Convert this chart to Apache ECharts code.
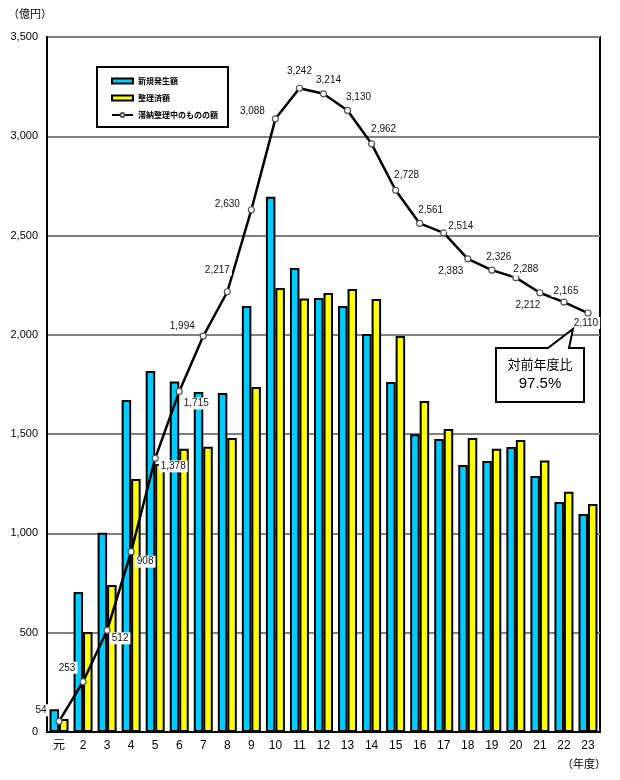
<!DOCTYPE html>
<html>
<head>
<meta charset="utf-8">
<script src="https://cdn.jsdelivr.net/npm/echarts@6/dist/echarts.min.js"></script>
<style>html,body{margin:0;padding:0;background:#fff;}#c{width:620px;height:780px;}</style>
</head>
<body>
<div id="c"></div>
<script>
var categories = ['元','2','3','4','5','6','7','8','9','10','11','12','13','14','15','16','17','18','19','20','21','22','23'];
var newAmount = [115, 705, 1003, 1672, 1818, 1765, 1712, 1707, 2145, 2695, 2337, 2186, 2145, 2004, 1762, 1500, 1475, 1345, 1365, 1435, 1289, 1158, 1098];
var settledAmount = [65, 504, 740, 1274, 1350, 1427, 1436, 1481, 1737, 2236, 2183, 2211, 2231, 2181, 1994, 1667, 1526, 1481, 1427, 1470, 1367, 1210, 1148];
var pendingAmount = [54, 253, 512, 908, 1378, 1715, 1994, 2217, 2630, 3088, 3242, 3214, 3130, 2962, 2728, 2561, 2514, 2383, 2326, 2288, 2212, 2165, 2110];
var seriesNames = ['新規発生額', '整理済額', '滞納整理中のものの額'];
var yTicks = [0, 500, 1000, 1500, 2000, 2500, 3000, 3500];

// label offsets (styling only)
var labelOffsets = [[-18,-11],[-16,-14],[13,8],[14,10],[18,8],[17,12],[-21,-10],[-10,-22],[-24,-6],[-23,-8],[0,-17],[5,-14],[11,-13],[12,-15],[11,-15],[11,-13],[17,-7],[-17,12],[7,-13],[10,-8],[-12,12],[2,-11],[-2,10]];

var numFont = 'Liberation Sans, Arial, sans-serif';
var jpFont = 'Noto Sans CJK JP, sans-serif';
function fmt(v){ return String(v).replace(/\B(?=(\d{3})+(?!\d))/g, ','); }

var chart = echarts.init(document.getElementById('c'), null, {renderer:'canvas'});
var lineData = pendingAmount.map(function(v, i){
  return { value: v, label: { offset: labelOffsets[i] } };
});

chart.setOption({
  animation: false,
  backgroundColor: '#fff',
  grid: { left: 47, right: 20, top: 37, bottom: 48, show: true, borderColor: '#000', borderWidth: 2, backgroundColor: 'transparent' },
  legend: {
    left: 97, top: 67,
    orient: 'vertical',
    data: [
      { name: seriesNames[0], icon: 'rect' },
      { name: seriesNames[1], icon: 'rect' },
      { name: seriesNames[2] }
    ],
    itemWidth: 21, itemHeight: 5, itemGap: 5,
    padding: [8, 10, 6, 14],
    borderColor: '#000', borderWidth: 2,
    backgroundColor: '#fff',
    textStyle: { fontSize: 8, fontWeight: 'bold', fontFamily: jpFont, color: '#000', lineHeight: 12 }
  },
  xAxis: {
    type: 'category',
    data: categories,
    axisLine: { lineStyle: { color: '#000', width: 2 } },
    axisTick: { show: false },
    axisLabel: { fontSize: 12, color: '#000', margin: 8, fontFamily: 'Liberation Sans, Noto Sans CJK JP, sans-serif' }
  },
  yAxis: {
    type: 'value',
    min: 0, max: 3500, interval: 500,
    axisLine: { show: true, lineStyle: { color: '#000', width: 2 } },
    axisTick: { show: false },
    axisLabel: { fontSize: 11, color: '#000', margin: 9, fontFamily: numFont, formatter: function(v){ return fmt(v); } },
    splitLine: { lineStyle: { color: '#808080', width: 2 } }
  },
  series: [
    {
      name: seriesNames[0], type: 'bar', data: newAmount,
      barWidth: 9.5, barGap: '0%',
      itemStyle: { color: '#00CCFF', borderColor: '#000', borderWidth: 2 }
    },
    {
      name: seriesNames[1], type: 'bar', data: settledAmount,
      barWidth: 9.5,
      itemStyle: { color: '#FFFF00', borderColor: '#000', borderWidth: 2 }
    },
    {
      name: seriesNames[2], type: 'line', data: lineData,
      z: 5,
      symbol: 'circle', symbolSize: 6,
      lineStyle: { color: '#000', width: 2.5 },
      itemStyle: { color: '#fff', borderColor: '#555', borderWidth: 1.2 },
      label: {
        show: true, position: 'inside',
        fontSize: 10, fontFamily: numFont, color: '#111',
        backgroundColor: '#fff', padding: [1, 2],
        formatter: function(p){ return fmt(p.value); }
      }
    }
  ],
  graphic: [
    { type: 'text', left: 8, top: 8, style: { text: '（億円）', fontSize: 11, fontFamily: jpFont, fill: '#000' } },
    { type: 'text', left: 562, top: 758, style: { text: '（年度）', fontSize: 11, fontFamily: jpFont, fill: '#000' } },
    { type: 'polygon', z: 100,
      shape: { points: [[496,348],[548,348],[573,329],[569,348],[584,348],[584,402],[496,402]] },
      style: { fill: '#fff', stroke: '#000', lineWidth: 2 } },
    { type: 'text', z: 101, x: 540, y: 364,
      style: { text: '対前年度比', fontSize: 13, fontFamily: jpFont, fill: '#000', align: 'center', verticalAlign: 'middle' } },
    { type: 'text', z: 101, x: 540, y: 384,
      style: { text: '97.5%', fontSize: 15, fontFamily: numFont, fill: '#000', align: 'center', verticalAlign: 'middle' } }
  ]
});
</script>
</body>
</html>
